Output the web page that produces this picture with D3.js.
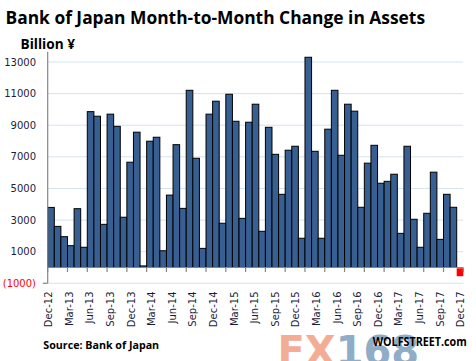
<!DOCTYPE html>
<html><head><meta charset="utf-8">
<script src="https://cdn.jsdelivr.net/npm/d3@7"></script>
<style>body{margin:0;background:#fff}svg{display:block}</style>
</head><body><svg id="c" width="476" height="361"></svg>
<script>
const categories = ["Oct-12","Nov-12","Dec-12","Jan-13","Feb-13","Mar-13","Apr-13","May-13","Jun-13","Jul-13","Aug-13","Sep-13","Oct-13","Nov-13","Dec-13",
"Jan-14","Feb-14","Mar-14","Apr-14","May-14","Jun-14","Jul-14","Aug-14","Sep-14","Oct-14","Nov-14","Dec-14",
"Jan-15","Feb-15","Mar-15","Apr-15","May-15","Jun-15","Jul-15","Aug-15","Sep-15","Oct-15","Nov-15","Dec-15",
"Jan-16","Feb-16","Mar-16","Apr-16","May-16","Jun-16","Jul-16","Aug-16","Sep-16","Oct-16","Nov-16","Dec-16",
"Jan-17","Feb-17","Mar-17","Apr-17","May-17","Jun-17","Jul-17","Aug-17","Sep-17","Oct-17","Nov-17","Dec-17"];
const values = [3800,2600,1950,1380,3720,1280,9860,9570,2730,9700,8930,3180,6660,
8560,100,7990,8240,1060,4580,7770,3740,11210,6910,1210,9700,
10520,2800,10960,9250,3110,9190,10330,2290,8870,7160,4630,7420,
7670,1850,13300,7350,1850,8750,11210,7100,10330,9890,3810,6600,
7730,5330,5450,5900,2160,7670,3050,1280,3430,6030,1780,4630,3810,-500];
const yTicks = [-1000,1000,3000,5000,7000,9000,11000,13000];
const xTickLabels = ["Dec-12","Mar-13","Jun-13","Sep-13","Dec-13","Mar-14","Jun-14","Sep-14","Dec-14","Mar-15","Jun-15","Sep-15","Dec-15","Mar-16","Jun-16","Sep-16","Dec-16","Mar-17","Jun-17","Sep-17","Dec-17"];

const svg = d3.select("#c");
const L = 47.7, R = 463.3;
const x = d3.scaleBand().domain(categories).range([L, R]).padding(0);
const y = d3.scaleLinear().domain([-1000, 13000]).range([283.3, 62]);
const gray = "#868686";

// gridlines
svg.append("g").selectAll("line").data(yTicks).join("line")
  .attr("x1", L).attr("x2", R).attr("y1", d => y(d)).attr("y2", d => y(d))
  .attr("stroke", "#d5e3ef").attr("stroke-width", 1);

// bars
svg.append("g").selectAll("rect").data(values).join("rect")
  .attr("x", (d, i) => x(categories[i]))
  .attr("width", x.bandwidth())
  .attr("y", d => d >= 0 ? y(d) : y(0) + 0.8)
  .attr("height", d => Math.abs(y(d) - y(0)))
  .attr("fill", d => d >= 0 ? "#375f91" : "#ff0000")
  .attr("stroke", d => d >= 0 ? "#000" : "none")
  .attr("stroke-width", 1);

// y axis line
svg.append("line").attr("x1", L).attr("x2", L).attr("y1", 51.7).attr("y2", y(-1000))
  .attr("stroke", gray).attr("stroke-width", 1.2);
svg.append("line").attr("x1", L - 5).attr("x2", L).attr("y1", y(-1000)).attr("y2", y(-1000))
  .attr("stroke", gray).attr("stroke-width", 1.2);
// zero axis
svg.append("line").attr("x1", L).attr("x2", R).attr("y1", y(0)).attr("y2", y(0))
  .attr("stroke", gray).attr("stroke-width", 1.2);
// x ticks every 3 categories
const tickIdx = d3.range(0, categories.length + 1, 3);
svg.append("g").selectAll("line").data(tickIdx).join("line")
  .attr("x1", i => L + i * x.step()).attr("x2", i => L + i * x.step())
  .attr("y1", y(0)).attr("y2", y(0) + 4.5)
  .attr("stroke", gray).attr("stroke-width", 1.2);

// y labels
svg.append("g").selectAll("text").data(yTicks).join("text")
  .attr("x", 36).attr("y", d => y(d)).attr("dy", "0.36em")
  .attr("text-anchor", "end")
  .attr("font-family", "DejaVu Sans, Verdana, sans-serif").attr("font-size", 10)
  .attr("fill", d => d < 0 ? "#ff0000" : "#1c1c3a")
  .text(d => d < 0 ? "(" + Math.abs(d) + ")" : d);

// x labels
const xl = d3.scalePoint().domain(xTickLabels).range([48.6, 460.5]);
svg.append("g").selectAll("text").data(xTickLabels).join("text")
  .attr("transform", d => `translate(${xl(d)},291.5) rotate(-90)`)
  .attr("dy", "0.36em").attr("text-anchor", "end")
  .attr("font-family", "DejaVu Sans, Verdana, sans-serif").attr("font-size", 10)
  .attr("fill", "#1c1c3a")
  .text(d => d);

// watermark
const wm = svg.append("text").attr("x", 277.5).attr("y", 364.5)
  .attr("font-family", "DejaVu Sans, sans-serif").attr("font-weight", "bold").attr("font-size", 40);
wm.append("tspan").attr("fill", "#f4ad95").text("FX");
wm.append("tspan").attr("fill", "#8fadc7").text("168");

function fit(sel, w) {
  const n = sel.node();
  const cur = n.getComputedTextLength();
  const fs = parseFloat(sel.attr("font-size"));
  sel.attr("font-size", fs * w / cur);
}
const title = svg.append("text").attr("x", 5.5).attr("y", 24)
  .attr("font-family", "Open Sans, sans-serif").attr("font-weight", "bold").attr("font-size", 17)
  .attr("fill", "#000").text("Bank of Japan Month-to-Month Change in Assets");
fit(title, 420);
const unit = svg.append("text").attr("x", 20.5).attr("y", 49)
  .attr("font-family", "Open Sans, sans-serif").attr("font-weight", "bold").attr("font-size", 13)
  .attr("fill", "#000").text("Billion ¥");
fit(unit, 54.5);
const src = svg.append("text").attr("x", 43.3).attr("y", 349.3)
  .attr("font-family", "Open Sans, sans-serif").attr("font-weight", "bold").attr("font-size", 11)
  .attr("fill", "#000").text("Source: Bank of Japan");
fit(src, 116);
svg.append("text").attr("x", 372.7).attr("y", 346)
  .attr("font-family", "Open Sans, sans-serif").attr("font-weight", "bold").attr("font-size", 12.5)
  .attr("fill", "#000").attr("textLength", 94).attr("lengthAdjust", "spacingAndGlyphs")
  .text("WOLFSTREET.com");
</script></body></html>
